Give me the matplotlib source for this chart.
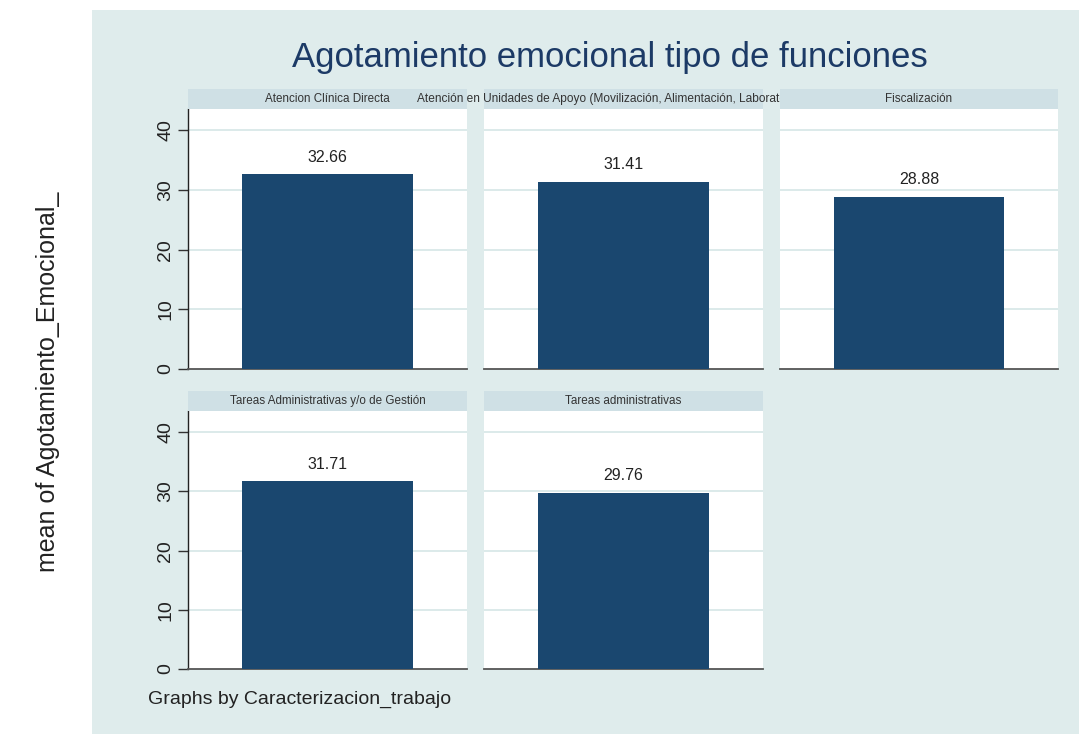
import matplotlib
matplotlib.use("Agg")
import matplotlib.pyplot as plt
from matplotlib.patches import Rectangle

plt.rcParams['font.family'] = ['Liberation Sans', 'DejaVu Sans']

# data
groups = ["Atencion Clínica Directa",
          "Atención en Unidades de Apoyo (Movilización, Alimentación, Laboratorio)",
          "Fiscalización",
          "Tareas Administrativas y/o de Gestión",
          "Tareas administrativas"]
means = [32.66, 31.41, 28.88, 31.71, 29.76]
yticks = [0, 10, 20, 30, 40]

W, H = 1079, 734
bg = '#dfecec'
strip_col = '#cfe0e5'
grid_col = '#d6e6e6'
bar_col = '#1a476f'

fig = plt.figure(figsize=(W/100, H/100), dpi=100)
fig.patch.set_facecolor('white')
fig.add_artist(Rectangle((92/W, 0), 1 - 92/W, 1 - 10/H, transform=fig.transFigure,
                         facecolor=bg, edgecolor='none', zorder=-10))

def box(x0, x1, y0, y1):
    # pixel box -> figure fraction [left, bottom, width, height]
    return [x0/W, 1 - y1/H, (x1 - x0)/W, (y1 - y0)/H]

cols = [(188, 467), (484, 763), (780, 1058)]
rows = [(89, 109, 369), (391, 411, 669)]

for i, (name, m) in enumerate(zip(groups, means)):
    r, c = divmod(i, 3)
    x0, x1 = cols[c]
    s0, s1, yb = rows[r]
    ax = fig.add_axes(box(x0, x1, s1, yb))
    ax.set_facecolor('white')
    ax.bar([0], [m], width=0.61, color=bar_col, zorder=3)
    ax.set_xlim(-0.5, 0.5)
    ax.set_ylim(0, 43.6)
    ax.set_xticks([])
    ax.set_yticks(yticks)
    for t in yticks[1:]:
        ax.axhline(t, color=grid_col, lw=1.2, zorder=1)
    ax.annotate(f"{m:.2f}", (0, m), xytext=(0, 7), textcoords='offset points',
                ha='center', va='bottom', fontsize=11.5, color='#222222')
    for sp in ['top', 'right']:
        ax.spines[sp].set_visible(False)
    ax.spines['bottom'].set_color('#555555')
    ax.spines['bottom'].set_linewidth(1.3)
    if c == 0:
        ax.spines['left'].set_color('#222222')
        ax.spines['left'].set_linewidth(1.0)
        ax.tick_params(axis='y', length=7, width=1, color='#333333', labelsize=14,
                       labelcolor='#222222', labelrotation=90, pad=3)
        for lab in ax.get_yticklabels():
            lab.set_va('center')
    else:
        ax.spines['left'].set_visible(False)
        ax.tick_params(axis='y', length=0, labelleft=False)

    # strip with the group name
    sax = fig.add_axes(box(x0, x1, s0, s1))
    sax.set_facecolor(strip_col)
    sax.set_xticks([])
    sax.set_yticks([])
    for sp in sax.spines.values():
        sp.set_visible(False)
    sax.set_zorder(2 + i)
    if i == 1:
        # long label spills out of its strip, the next strip covers the rest
        sax.text(417/W, 1 - 99/H, name, ha='left', va='center', fontsize=8.6,
                 color='#333333', transform=fig.transFigure, clip_on=False)
    else:
        sax.text(0.5, 0.5, name, ha='center', va='center', fontsize=8.4, color='#333333',
                 transform=sax.transAxes, clip_on=False)

fig.text(610/W, 1 - 57/H, "Agotamiento emocional tipo de funciones", ha='center', va='center',
         fontsize=25, color='#1c3a66')
fig.text(48/W, 1 - 382/H, "mean of Agotamiento_Emocional_", rotation=90, ha='center',
         va='center', fontsize=18, color='#222222')
fig.text(148/W, 1 - 699/H, "Graphs by Caracterizacion_trabajo", ha='left', va='center',
         fontsize=14, color='#222222')

fig.savefig("out.png", dpi=100, facecolor=fig.get_facecolor())
